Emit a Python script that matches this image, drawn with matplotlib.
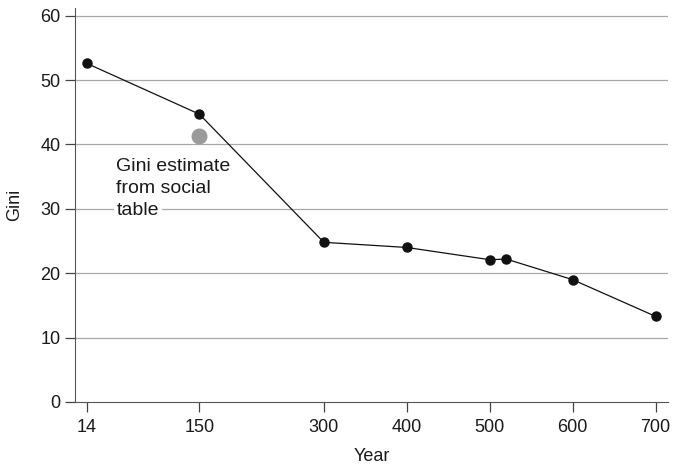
import matplotlib.pyplot as plt

plt.rcParams['font.family'] = ['Liberation Sans', 'DejaVu Sans']

# Gini series
years = [14, 150, 300, 400, 500, 520, 600, 700]
gini = [52.6, 44.7, 24.8, 24.0, 22.1, 22.2, 19.0, 13.3]
# social table estimate
est_year = [150]
est_gini = [41.3]

xticks = [14, 150, 300, 400, 500, 600, 700]
yticks = [0, 10, 20, 30, 40, 50, 60]

note_lines = ['Gini estimate', 'from social', 'table']
note_y = [35.8, 32.4, 29.1]

fig = plt.figure(figsize=(6.73, 4.67), dpi=100)
ax = fig.add_axes([0.1114, 0.1392, 0.8812, 0.8438])

for yv in yticks[1:]:
    ax.axhline(yv, color='#a8a8a8', lw=0.9, zorder=0)

ax.plot(years, gini, color='#111111', lw=0.9, marker='o', ms=6.5,
        markerfacecolor='#111111', markeredgecolor='#111111', zorder=3)
ax.plot(est_year, est_gini, 'o', ms=10.5, color='#9a9a9a', zorder=3)

# each line gets its own white box, so the grid is only broken behind the words
for line, yy in zip(note_lines, note_y):
    ax.text(50, yy, line, fontsize=14, va='baseline', ha='left', color='#1a1a1a',
            bbox=dict(facecolor='white', edgecolor='none', pad=2), zorder=2)

ax.set_xlim(0, 715)
ax.set_ylim(0, 61.2)
ax.set_xticks(xticks)
ax.set_yticks(yticks)
ax.tick_params(axis='both', labelsize=13, color='#444444', labelcolor='#1a1a1a',
               length=7, width=0.9)
ax.tick_params(axis='x', pad=5)
ax.spines['top'].set_visible(False)
ax.spines['right'].set_visible(False)
ax.spines['left'].set_color('#555555')
ax.spines['bottom'].set_color('#555555')
ax.set_xlabel('Year', fontsize=13, color='#1a1a1a', labelpad=9)
ax.set_ylabel('Gini', fontsize=13, color='#1a1a1a', labelpad=12)

fig.savefig('out.png', dpi=100)
